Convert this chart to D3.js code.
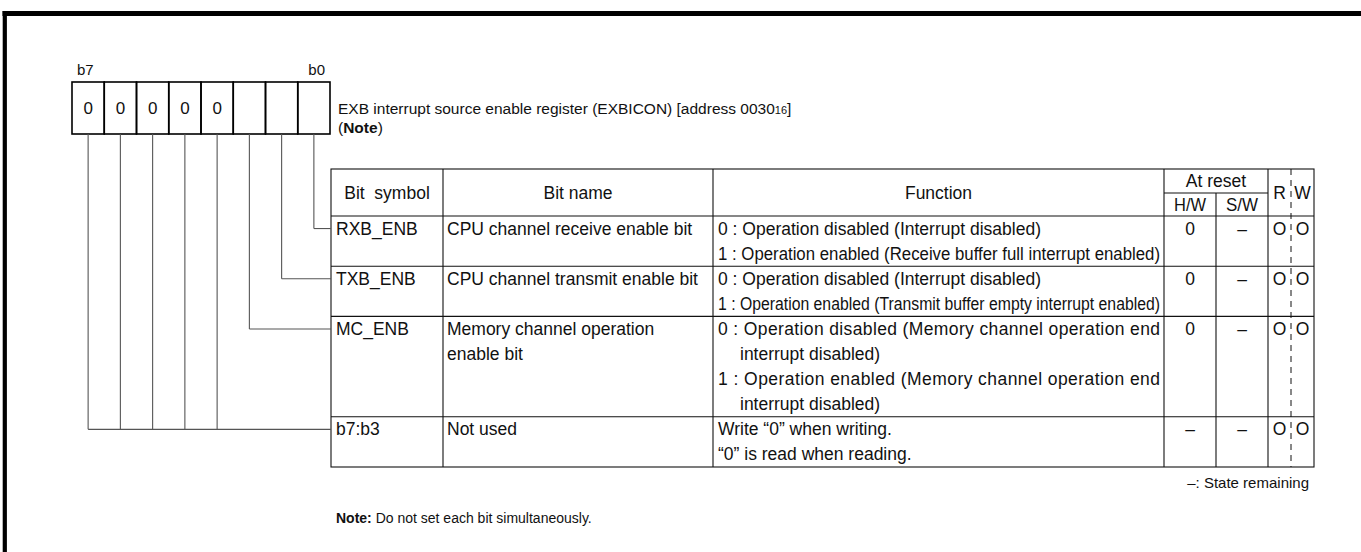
<!DOCTYPE html>
<html><head><meta charset="utf-8">
<script src="https://cdn.jsdelivr.net/npm/d3@7"></script>
<style>
body{margin:0;background:#fff}
svg{display:block}
text{font-family:"Liberation Sans",Arial,Helvetica,sans-serif;fill:#111}
</style>
</head><body>
<svg id="c" width="1361" height="552"></svg>
<script>
// ---------- data ----------
const bitLabels = ["b7","b6","b5","b4","b3","b2","b1","b0"];
const bitValues = ["0","0","0","0","0","","",""];
const headerCols = ["Bit  symbol","Bit name","Function","H/W","S/W","R","W"];
const headerGroup = "At reset";
const symbols = ["RXB_ENB","TXB_ENB","MC_ENB","b7:b3"];
const bitNames = [
  ["CPU channel receive enable bit"],
  ["CPU channel transmit enable bit"],
  ["Memory channel operation","enable bit"],
  ["Not used"]
];
const functions = [
  ["0 : Operation disabled (Interrupt disabled)","1 : Operation enabled (Receive buffer full interrupt enabled)"],
  ["0 : Operation disabled (Interrupt disabled)","1 : Operation enabled (Transmit buffer empty interrupt enabled)"],
  ["0 : Operation disabled (Memory channel operation end","interrupt disabled)","1 : Operation enabled (Memory channel operation end","interrupt disabled)"],
  ["Write \u201c0\u201d when writing.","\u201c0\u201d is read when reading."]
];
const rowLines = [2,2,4,2];
const hwReset = ["0","0","0","\u2013"];
const swReset = ["\u2013","\u2013","\u2013","\u2013"];
const readAccess = ["O","O","O","O"];
const writeAccess = ["O","O","O","O"];
const rowBits = [["b0"],["b1"],["b2"],["b7","b6","b5","b4","b3"]];
const titleText = "EXB interrupt source enable register (EXBICON) [address 0030";
const titleSub = "16";
const legendText = "\u2013: State remaining";
const noteLabel = "Note:";
const noteText = " Do not set each bit simultaneously.";

// ---------- layout ----------
const svg = d3.select("#c");
const FS = 17.5;
const ink = "#111";

// frame
svg.append("line").attr("x1",2.5).attr("x2",1361).attr("y1",13.5).attr("y2",13.5).attr("stroke","#000").attr("stroke-width",5);
svg.append("line").attr("x1",4.8).attr("x2",4.8).attr("y1",11).attr("y2",552).attr("stroke","#000").attr("stroke-width",4.2);

// bit boxes
const xBit = d3.scaleBand().domain(bitLabels).range([72,330]);
const boxTop = 82, boxBot = 134;
const gb = svg.append("g");
gb.selectAll("rect").data(bitLabels).join("rect")
  .attr("x",d=>xBit(d)).attr("y",boxTop).attr("width",xBit.bandwidth()).attr("height",boxBot-boxTop)
  .attr("fill","none").attr("stroke","#000").attr("stroke-width",1.6);
gb.selectAll("text.v").data(bitLabels).join("text").attr("class","v")
  .attr("x",d=>xBit(d)+xBit.bandwidth()/2).attr("y",(boxTop+boxBot)/2+6)
  .attr("text-anchor","middle").attr("font-size",17).text((d,i)=>bitValues[i]);
gb.append("text").attr("x",xBit("b7")+5).attr("y",75).attr("font-size",15).text(bitLabels[0]);
gb.append("text").attr("x",xBit("b0")+xBit.bandwidth()-5).attr("y",75).attr("text-anchor","end").attr("font-size",15).text(bitLabels[7]);

// title
const tt = svg.append("text").attr("x",338).attr("y",114).attr("font-size",15.5);
tt.append("tspan").text(titleText);
tt.append("tspan").attr("font-size",11).text(titleSub);
tt.append("tspan").text("]");
const nt = svg.append("text").attr("x",338).attr("y",132.5).attr("font-size",15.5);
nt.append("tspan").text("(");
nt.append("tspan").attr("font-weight","bold").text("Note");
nt.append("tspan").text(")");

// table geometry
const colEdges = [331,443,713,1164,1216,1268,1314];
const rwSplit = 1291;
const tTop = 169, hMid = 193, hBot = 216, tBot = 467;
const totalLines = d3.sum(rowLines);
const yLine = d3.scaleLinear().domain([0,totalLines]).range([hBot,tBot]);
const rowStart = rowLines.map((d,i)=>d3.sum(rowLines.slice(0,i)));
const pitch = yLine(1)-yLine(0);
const base = (li)=>yLine(li)+pitch/2+6;

const gt = svg.append("g").attr("stroke",ink).attr("stroke-width",1.1).attr("fill","none");
gt.append("rect").attr("x",colEdges[0]).attr("y",tTop).attr("width",colEdges[6]-colEdges[0]).attr("height",tBot-tTop);
[1,2,3,5].forEach(i=>gt.append("line").attr("x1",colEdges[i]).attr("x2",colEdges[i]).attr("y1",tTop).attr("y2",tBot));
gt.append("line").attr("x1",colEdges[4]).attr("x2",colEdges[4]).attr("y1",hMid).attr("y2",tBot);
gt.append("line").attr("x1",colEdges[3]).attr("x2",colEdges[5]).attr("y1",hMid).attr("y2",hMid);
gt.append("line").attr("x1",rwSplit).attr("x2",rwSplit).attr("y1",tTop).attr("y2",tBot).attr("stroke-dasharray","6,5").attr("stroke-width",1);
gt.append("line").attr("x1",colEdges[0]).attr("x2",colEdges[6]).attr("y1",hBot).attr("y2",hBot);
rowStart.slice(1).forEach(s=>gt.append("line").attr("x1",colEdges[0]).attr("x2",colEdges[6]).attr("y1",yLine(s)).attr("y2",yLine(s)));

// header text
const hy = (tTop+hBot)/2+6;
const ctr = (a,b)=>(a+b)/2;
const gh = svg.append("g").attr("font-size",FS).attr("text-anchor","middle");
gh.append("text").attr("x",ctr(colEdges[0],colEdges[1])).attr("y",hy).style("white-space","pre").text(headerCols[0]);
gh.append("text").attr("x",ctr(colEdges[1],colEdges[2])).attr("y",hy).text(headerCols[1]);
gh.append("text").attr("x",ctr(colEdges[2],colEdges[3])).attr("y",hy).text(headerCols[2]);
gh.append("text").attr("x",ctr(colEdges[3],colEdges[5])).attr("y",(tTop+hMid)/2+6).text(headerGroup);
gh.append("text").attr("x",ctr(colEdges[3],colEdges[4])).attr("y",(hMid+hBot)/2+6).attr("textLength",32).attr("lengthAdjust","spacingAndGlyphs").text(headerCols[3]);
gh.append("text").attr("x",ctr(colEdges[4],colEdges[5])).attr("y",(hMid+hBot)/2+6).attr("textLength",32).attr("lengthAdjust","spacingAndGlyphs").text(headerCols[4]);
gh.append("text").attr("x",ctr(colEdges[5],rwSplit)).attr("y",hy).text(headerCols[5]);
gh.append("text").attr("x",ctr(rwSplit,colEdges[6])).attr("y",hy).text(headerCols[6]);

// body
const gbody = svg.append("g").attr("font-size",FS);
const isCont = (r,f)=> r<3 && !/^\d :/.test(f);
symbols.forEach((s,r)=>{
  const l0 = rowStart[r];
  gbody.append("text").attr("x",colEdges[0]+5).attr("y",base(l0)).text(s);
  bitNames[r].forEach((n,k)=>{
    const t = gbody.append("text").attr("x",colEdges[1]+4).attr("y",base(l0+k)).text(n);
    const avail = colEdges[2]-3-(colEdges[1]+4);
    if (t.node().getComputedTextLength()>avail) t.attr("textLength",avail).attr("lengthAdjust","spacingAndGlyphs");
  });
  const fl = functions[r];
  fl.forEach((f,k)=>{
    const cont = isCont(r,f);
    const x0 = colEdges[2]+5 + (cont?22:0);
    const t = gbody.append("text").attr("x",x0).attr("y",base(l0+k)).text(f);
    const avail = colEdges[3]-4-x0;
    const w = t.node().getComputedTextLength();
    const nextCont = k+1<fl.length && isCont(r,fl[k+1]);
    if (w>avail || nextCont) t.attr("textLength",avail).attr("lengthAdjust", w>avail?"spacingAndGlyphs":"spacing");
  });
  const yc = base(l0);
  gbody.append("text").attr("x",ctr(colEdges[3],colEdges[4])).attr("y",yc).attr("text-anchor","middle").text(hwReset[r]);
  gbody.append("text").attr("x",ctr(colEdges[4],colEdges[5])).attr("y",yc).attr("text-anchor","middle").text(swReset[r]);
  gbody.append("text").attr("x",ctr(colEdges[5],rwSplit)).attr("y",yc).attr("text-anchor","middle").text(readAccess[r]);
  gbody.append("text").attr("x",ctr(rwSplit,colEdges[6])).attr("y",yc).attr("text-anchor","middle").text(writeAccess[r]);
});

// leaders
const gl = svg.append("g").attr("stroke","#555").attr("stroke-width",1.1).attr("fill","none");
rowBits.forEach((bits,r)=>{
  const y = yLine(rowStart[r])+pitch/2;
  const xs = bits.map(b=>xBit(b)+xBit.bandwidth()/2);
  xs.forEach(x=>gl.append("line").attr("x1",x).attr("x2",x).attr("y1",boxBot).attr("y2",y));
  gl.append("line").attr("x1",d3.min(xs)).attr("x2",colEdges[0]).attr("y1",y).attr("y2",y);
});

// legend & note
svg.append("text").attr("x",1309).attr("y",488).attr("text-anchor","end").attr("font-size",15).text(legendText);
const nn = svg.append("text").attr("x",336).attr("y",523).attr("font-size",14);
nn.append("tspan").attr("font-weight","bold").text(noteLabel);
nn.append("tspan").style("white-space","pre").text(noteText);
</script>
</body></html>
